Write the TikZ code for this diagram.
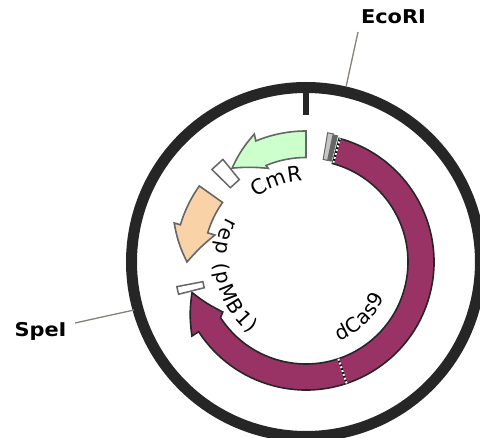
\documentclass[tikz,border=0pt]{standalone}
\usepackage{fontspec}
\usetikzlibrary{decorations.text}
\newfontfamily\dvfont{DejaVu Sans}
\newfontfamily\dvbold[FakeStretch=1.1]{DejaVu Sans Bold}
\newcommand{\arclbl}{\dvfont\fontsize{21}{25}\selectfont}
\newcommand{\innerlbl}{\dvfont\fontsize{20}{24}\selectfont}
\definecolor{ringcol}{HTML}{262626}
\definecolor{casfill}{HTML}{993366}
\definecolor{greenfill}{HTML}{CCFFCC}
\definecolor{orangefill}{HTML}{FAD2A7}
\definecolor{leadcol}{HTML}{85817A}
\definecolor{graystroke}{HTML}{666666}
\tikzset{
  ring/.style={draw=ringcol,line width=11pt},
  leader/.style={draw=leadcol,line width=1.3pt},
  sitelabel/.style={font=\dvbold\fontsize{19}{22}\selectfont,text=black,inner sep=0pt,anchor=base},
  feature/.style={draw=graystroke,line width=1.6pt,line join=miter},
  marker/.style={draw=graystroke,fill=white,line width=1.5pt},
  cas/.style={draw=ringcol,fill=casfill,line width=1.6pt},
  dots/.style={draw=white,line width=2pt,dash pattern=on 2pt off 2pt},
  dotsbg/.style={draw=black,line width=2pt},
  curvedlbl/.style={decorate}
}
\begin{document}
\begin{tikzpicture}[x=1pt,y=1pt]
\useasboundingbox (0,-438) rectangle (480,0);
\clip (0,-438) rectangle (480,0);
\begin{scope}[shift={(306,-262)}]
  % backbone
  \draw[ring] (0,0) circle[radius=174.5];
  \draw[draw=ringcol,line width=5.5pt] (90:170) -- (90:147);
  % leaders
  \node[sitelabel] (eco) at (87.5,238) {EcoRI};
  \node[sitelabel] (spe) at (-265.5,-75) {SpeI};
  \coordinate (ecostart) at (52,230);
  \coordinate (ecoring) at (40,175);
  \coordinate (spestart) at (-231,-61);
  \coordinate (spering) at (-172,-48);
  \draw[leader] (ecostart) -- (ecoring);
  \draw[leader] (spestart) -- (spering);
  % dCas9
  \path[cas] (75:128) arc[start angle=75,end angle=-147,radius=128]
    -- (-147:136) to[bend left=8] (195:118) to[bend right=6] (-149:97) -- (-147:102)
    arc[start angle=-147,end angle=75,radius=102] -- cycle;
  \draw[dotsbg] (-71.5:102) -- (-71.5:128);
  \draw[dots] (-71.5:102) -- (-71.5:128);
  % start features
  \path[draw=graystroke,fill=graystroke,line width=1pt] (79:130) -- (79:104) -- (76:104) -- (76:130) -- cycle;
  \path[draw=graystroke,fill=gray!45,line width=1pt] (80.5:131) -- (80.5:104) -- (78:104) -- (78:131) -- cycle;
  \draw[dotsbg] (74.6:103) -- (74.6:128);
  \draw[dots] (74.6:103) -- (74.6:128);
  % CmR
  \path[feature,fill=greenfill] (90:131) arc[start angle=90,end angle=112.5,radius=131]
    -- (112:138) to[bend right=8] (128.2:119.5) to[bend left=5] (112:101) -- (112.5:104.5)
    arc[start angle=112.5,end angle=90,radius=104.5] -- cycle;
  % rep
  \path[feature,fill=orangefill] (144.5:131) arc[start angle=144.5,end angle=163.5,radius=131]
    -- (163.5:137.5) to[bend right=8] (180:119) to[bend left=5] (163.5:95) -- (163.5:102.5)
    arc[start angle=163.5,end angle=144.5,radius=102.5] -- cycle;
  % markers
  \path[marker] (129:106) -- (129:132) -- (135.5:132) -- (135.5:106) -- cycle;
  \path[marker] (190.8:105) -- (190.8:131.5) -- (194.2:131.5) -- (194.2:105) -- cycle;
  % labels
  \path[curvedlbl,decoration={text along path,text align=center,text={|\arclbl|CmR}}]
    (128:81) arc[start angle=128,end angle=92,radius=81];
  \path[curvedlbl,decoration={text along path,text align=fit to path,text={|\innerlbl|rep (pMB1)}}]
    (151:91) arc[start angle=151,end angle=232,radius=91];
  \path[curvedlbl,decoration={text along path,text align=fit to path,text={|\innerlbl|dCas9}}]
    (-67:86) arc[start angle=-67,end angle=-24,radius=86];
\end{scope}
\end{tikzpicture}
\end{document}
